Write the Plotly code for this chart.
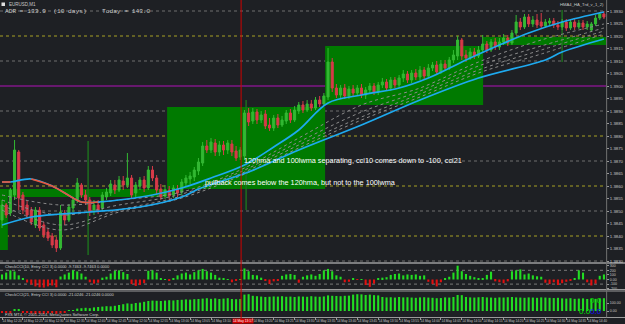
import plotly.graph_objects as go

W, H = 625, 324
def px(x): return x / W
def py(y): return 1 - y / H

# ---------------- data ----------------
bar_index = list(range(145))

opens = [1.38464, 1.38524, 1.38492, 1.38564, 1.38736, 1.38564, 1.38524, 1.38504, 1.38444, 1.38504,
         1.38444, 1.38416, 1.38400, 1.38384, 1.38352, 1.38492, 1.38464, 1.38512, 1.38544, 1.38604,
         1.38564, 1.38544, 1.38504, 1.38524, 1.38512, 1.38556, 1.38572, 1.38604, 1.38584, 1.38620,
         1.38604, 1.38632, 1.38572, 1.38600, 1.38624, 1.38592, 1.38664, 1.38632, 1.38588, 1.38560,
         1.38584, 1.38564, 1.38588, 1.38576, 1.38612, 1.38628, 1.38636, 1.38660, 1.38692, 1.38760,
         1.38744, 1.38772, 1.38736, 1.38764, 1.38744, 1.38768, 1.38740, 1.38716, 1.38720, 1.38892,
         1.38860, 1.38896, 1.38864, 1.38888, 1.38844, 1.38832, 1.38872, 1.38844, 1.38860, 1.38892,
         1.38864, 1.38900, 1.38924, 1.38904, 1.38928, 1.38912, 1.38944, 1.38928, 1.38956, 1.39096,
         1.38992, 1.38964, 1.38992, 1.38960, 1.38988, 1.38972, 1.38992, 1.38964, 1.38984, 1.39000,
         1.38976, 1.39004, 1.39016, 1.38992, 1.39024, 1.39004, 1.39032, 1.39048, 1.39024, 1.39052,
         1.39036, 1.39064, 1.39040, 1.39072, 1.39084, 1.39056, 1.39088, 1.39072, 1.39104, 1.39120,
         1.39184, 1.39124, 1.39112, 1.39136, 1.39120, 1.39144, 1.39168, 1.39144, 1.39176, 1.39156,
         1.39176, 1.39192, 1.39172, 1.39212, 1.39256, 1.39236, 1.39276, 1.39248, 1.39264, 1.39256,
         1.39240, 1.39252, 1.39260, 1.39244, 1.39236, 1.39256, 1.39232, 1.39256, 1.39236, 1.39252,
         1.39236, 1.39224, 1.39248, 1.39272, 1.39288]

highs = [1.38544, 1.38532, 1.38592, 1.38784, 1.38744, 1.38576, 1.38540, 1.38516, 1.38516, 1.38516,
         1.38456, 1.38428, 1.38412, 1.38396, 1.38524, 1.38504, 1.38528, 1.38556, 1.38632, 1.38612,
         1.38584, 1.38556, 1.38544, 1.38544, 1.38576, 1.38592, 1.38624, 1.38624, 1.38640, 1.38640,
         1.38732, 1.38644, 1.38616, 1.38636, 1.38640, 1.38680, 1.38680, 1.38644, 1.38608, 1.38604,
         1.38600, 1.38604, 1.38604, 1.38628, 1.38644, 1.38656, 1.38676, 1.38712, 1.38776, 1.38784,
         1.38792, 1.38788, 1.38780, 1.38780, 1.38784, 1.38784, 1.38760, 1.38756, 1.38904, 1.38912,
         1.38912, 1.38908, 1.38900, 1.38904, 1.38872, 1.38884, 1.38888, 1.38880, 1.38904, 1.38908,
         1.38920, 1.38936, 1.38940, 1.38944, 1.38944, 1.38956, 1.38960, 1.38972, 1.39152, 1.39112,
         1.39008, 1.39004, 1.39008, 1.39000, 1.39004, 1.39004, 1.39008, 1.38996, 1.39012, 1.39012,
         1.39016, 1.39032, 1.39028, 1.39036, 1.39036, 1.39044, 1.39064, 1.39060, 1.39064, 1.39068,
         1.39080, 1.39076, 1.39088, 1.39096, 1.39100, 1.39104, 1.39104, 1.39116, 1.39144, 1.39200,
         1.39192, 1.39144, 1.39152, 1.39152, 1.39160, 1.39204, 1.39180, 1.39188, 1.39192, 1.39192,
         1.39208, 1.39204, 1.39224, 1.39284, 1.39272, 1.39288, 1.39288, 1.39280, 1.39288, 1.39292,
         1.39268, 1.39272, 1.39272, 1.39260, 1.39268, 1.39268, 1.39268, 1.39268, 1.39264, 1.39264,
         1.39260, 1.39256, 1.39284, 1.39296, 1.39300]

lows = [1.38432, 1.38472, 1.38480, 1.38544, 1.38504, 1.38488, 1.38472, 1.38444, 1.38432, 1.38420,
        1.38392, 1.38380, 1.38352, 1.38336, 1.38344, 1.38444, 1.38456, 1.38496, 1.38532, 1.38552,
        1.38524, 1.38480, 1.38484, 1.38488, 1.38500, 1.38544, 1.38560, 1.38568, 1.38576, 1.38584,
        1.38592, 1.38552, 1.38556, 1.38584, 1.38576, 1.38584, 1.38620, 1.38568, 1.38544, 1.38548,
        1.38544, 1.38552, 1.38556, 1.38564, 1.38596, 1.38608, 1.38620, 1.38644, 1.38680, 1.38732,
        1.38732, 1.38720, 1.38720, 1.38724, 1.38728, 1.38720, 1.38700, 1.38704, 1.38704, 1.38840,
        1.38848, 1.38848, 1.38852, 1.38828, 1.38820, 1.38820, 1.38832, 1.38836, 1.38848, 1.38852,
        1.38856, 1.38888, 1.38892, 1.38896, 1.38900, 1.38904, 1.38916, 1.38920, 1.38944, 1.38976,
        1.38952, 1.38952, 1.38948, 1.38948, 1.38956, 1.38960, 1.38952, 1.38948, 1.38972, 1.38964,
        1.38964, 1.38992, 1.38980, 1.38980, 1.38992, 1.38992, 1.39016, 1.39012, 1.39012, 1.39024,
        1.39024, 1.39028, 1.39032, 1.39060, 1.39044, 1.39048, 1.39060, 1.39064, 1.39092, 1.39104,
        1.39104, 1.39096, 1.39104, 1.39108, 1.39112, 1.39132, 1.39132, 1.39136, 1.39144, 1.39144,
        1.39164, 1.39160, 1.39164, 1.39204, 1.39224, 1.39228, 1.39236, 1.39236, 1.39232, 1.39228,
        1.39232, 1.39240, 1.39232, 1.39224, 1.39224, 1.39220, 1.39224, 1.39224, 1.39228, 1.39224,
        1.39224, 1.39216, 1.39240, 1.39264, 1.39268]

closes = [1.38524, 1.38484, 1.38584, 1.38744, 1.38552, 1.38504, 1.38484, 1.38456, 1.38504, 1.38432,
          1.38404, 1.38392, 1.38364, 1.38352, 1.38496, 1.38464, 1.38516, 1.38544, 1.38612, 1.38564,
          1.38544, 1.38496, 1.38524, 1.38504, 1.38564, 1.38576, 1.38608, 1.38584, 1.38624, 1.38604,
          1.38632, 1.38564, 1.38604, 1.38624, 1.38592, 1.38664, 1.38632, 1.38584, 1.38556, 1.38584,
          1.38560, 1.38592, 1.38572, 1.38616, 1.38632, 1.38640, 1.38664, 1.38696, 1.38760, 1.38744,
          1.38776, 1.38736, 1.38764, 1.38744, 1.38772, 1.38736, 1.38712, 1.38744, 1.38892, 1.38856,
          1.38896, 1.38864, 1.38884, 1.38840, 1.38832, 1.38872, 1.38844, 1.38864, 1.38892, 1.38864,
          1.38904, 1.38924, 1.38904, 1.38928, 1.38912, 1.38944, 1.38928, 1.38960, 1.39096, 1.38992,
          1.38964, 1.38992, 1.38960, 1.38988, 1.38972, 1.38992, 1.38964, 1.38984, 1.39000, 1.38976,
          1.39004, 1.39016, 1.38992, 1.39024, 1.39004, 1.39032, 1.39048, 1.39024, 1.39052, 1.39036,
          1.39064, 1.39040, 1.39072, 1.39084, 1.39056, 1.39088, 1.39072, 1.39104, 1.39124, 1.39184,
          1.39120, 1.39112, 1.39136, 1.39120, 1.39144, 1.39168, 1.39144, 1.39176, 1.39156, 1.39176,
          1.39192, 1.39172, 1.39212, 1.39256, 1.39236, 1.39276, 1.39248, 1.39264, 1.39244, 1.39240,
          1.39256, 1.39260, 1.39244, 1.39236, 1.39256, 1.39232, 1.39256, 1.39236, 1.39252, 1.39236,
          1.39248, 1.39248, 1.39272, 1.39288, 1.39276]

# 120 HMA (colored by slope) and 100 LWMA
hma_idx = [0, 2, 7, 12, 17, 19, 23, 30, 36, 43, 50, 58, 65, 71, 78, 86, 95, 102, 111, 119, 126, 134, 144]
hma_val = [1.38616, 1.38616, 1.38628, 1.38600, 1.38552, 1.38536, 1.38536, 1.38548, 1.38564, 1.38592,
           1.38632, 1.38684, 1.38756, 1.38824, 1.38932, 1.38964, 1.38992, 1.39032, 1.39104, 1.39164,
           1.39212, 1.39256, 1.39296]
hma_down_spans = [(0, 2), (7, 23)]

lwma_idx = [0, 7, 14, 21, 33, 43, 47, 59, 71, 86, 100, 114, 130, 134, 144]
lwma_val = [1.38444, 1.38476, 1.38488, 1.38496, 1.38516, 1.38556, 1.38588, 1.38656, 1.38744, 1.38844,
            1.38944, 1.39032, 1.39104, 1.39136, 1.39188]

ribbon_idx = [0, 14, 28, 43, 57, 71, 86, 100, 114, 129, 144]
ribbon_1 = [1.38564, 1.38524, 1.38544, 1.38576, 1.38664, 1.38792, 1.38924, 1.38992, 1.39096, 1.39184, 1.39248]
ribbon_2 = [1.38544, 1.38484, 1.38524, 1.38568, 1.38656, 1.38776, 1.38896, 1.38980, 1.39080, 1.39160, 1.39232]
ribbon_3 = [1.38524, 1.38444, 1.38504, 1.38560, 1.38648, 1.38764, 1.38876, 1.38968, 1.39064, 1.39144, 1.39220]
ribbon_4 = [1.38504, 1.38424, 1.38496, 1.38552, 1.38640, 1.38752, 1.38864, 1.38956, 1.39052, 1.39128, 1.39208]

cci_fast = [110, 150, 200, 175, 90, 30, -65, -110, -150, -170,
            -175, -150, -130, -170, 65, 110, 150, 200, 175, 130,
            60, -60, -90, -70, 40, 60, 130, 190, 200, 160,
            120, -100, -140, -120, -80, 190, 200, 150, 20, 10,
            -20, 30, 90, 130, 150, 110, 160, 200, 230, 180,
            150, 100, 40, 30, 10, -60, -20, 10, 240, 180,
            100, 90, 40, -30, -100, -40, -20, 80, 110, 120,
            100, -70, 60, 90, 110, 80, 120, 200, 230, 180,
            90, 60, -60, -50, 20, -10, 10, -120, -160, -90,
            30, 40, 50, 100, 120, 130, 90, 110, 100, 110,
            80, 90, -50, -100, -150, -60, 30, 60, 150, 300,
            180, 120, 80, 50, 30, 20, 100, 170, -40, -60,
            -80, -40, 180, 200, 220, 110, 130, 90, 70, 60,
            -70, -100, -60, -120, -80, -50, -30, 20, 200, 150,
            -60, -130, -90, 80, 110]

cci_slow = [-25, -20, -30, 15, 20, -15, -25, -30, -35, -30,
            -35, -30, -25, -35, -20, -15, 10, 12, 30, 35,
            40, 35, 45, 50, 55, 60, 58, 65, 75, 85,
            95, 90, 100, 105, 115, 125, 130, 128, 125, 130,
            135, 132, 138, 140, 145, 142, 148, 150, 155, 160,
            152, 158, 150, 155, 160, 150, 148, 150, 205, 210,
            190, 185, 180, 175, 178, 182, 180, 185, 178, 180,
            175, 182, 180, 178, 185, 180, 178, 182, 195, 190,
            188, 185, 190, 192, 205, 210, 208, 200, 205, 198,
            195, 175, 170, 172, 168, 175, 170, 172, 168, 165,
            170, 172, 168, 165, 160, 162, 170, 168, 175, 200,
            198, 175, 170, 168, 172, 175, 170, 168, 165, 170,
            168, 172, 175, 170, 168, 165, 170, 168, 165, 170,
            168, 165, 162, 165, 158, 155, 160, 152, 155, 158,
            150, 155, 152, 158, 160]

# green range boxes (bar index span, price span)
box_x0 = [-0.5, 1.4, 39.5, 77.3, 115.1]
box_x1 = [1.4, 39.5, 77.3, 115.1, 145.0]
box_lo = [1.38344, 1.38556, 1.38588, 1.38924, 1.39164]
box_hi = [1.38588, 1.38588, 1.38916, 1.39160, 1.39196]

signal_idx = [20.6, 58.4, 134.0]
signal_lo = [1.38324, 1.38504, 1.39096]
signal_hi = [1.38780, 1.38944, 1.39304]

cursor_idx = 57.2
cursor_label = "14 May 13:17"

gray_levels = [1.3930, 1.3910, 1.3890, 1.3870, 1.3850, 1.3830]
olive_levels = [1.3920, 1.3880, 1.3860, 1.3840]
magenta_level = 1.3900

price_ticks = [1.3830, 1.3835, 1.3840, 1.3845, 1.3850, 1.3855, 1.3860, 1.3865, 1.3870, 1.3875, 1.3880,
               1.3885, 1.3890, 1.3895, 1.3900, 1.3905, 1.3910, 1.3915, 1.3920, 1.3925, 1.3930]

# time labels (the one under the red cursor label is hidden by it, as in the terminal)
time_tick_idx = [0, 5, 10, 15, 20, 25, 30, 35, 40, 45, 50, 60, 65, 70, 75, 80, 85, 90, 95,
                 100, 105, 110, 115, 120, 125, 130, 135, 140]
time_labels = ["14 May 12:20", "14 May 12:25", "14 May 12:30", "14 May 12:35", "14 May 12:40",
               "14 May 12:45", "14 May 12:50", "14 May 12:55", "14 May 13:00", "14 May 13:05",
               "14 May 13:10", "14 May 13:20", "14 May 13:25", "14 May 13:30",
               "14 May 13:35", "14 May 13:40", "14 May 13:45", "14 May 13:50", "14 May 13:55",
               "14 May 14:00", "14 May 14:05", "14 May 14:10", "14 May 14:15", "14 May 14:20",
               "14 May 14:25", "14 May 14:30", "14 May 14:35", "14 May 14:40"]

# ---------------- figure ----------------
BG = "#1e2024"
TXT = "#c8c8c8"
CYAN = "#1eaaf0"
FONT = "Liberation Sans"
XR = 606 / W

fig = go.Figure()

fig.add_trace(go.Candlestick(
    x=bar_index, open=opens, high=highs, low=lows, close=closes,
    increasing=dict(line=dict(color="#33b833", width=1), fillcolor="#33b833"),
    decreasing=dict(line=dict(color="#d83a48", width=1), fillcolor="#d83a48"),
    whiskerwidth=0, xaxis="x", yaxis="y", hoverinfo="skip"))

for rib in [ribbon_1, ribbon_2, ribbon_3, ribbon_4]:
    fig.add_trace(go.Scatter(x=ribbon_idx, y=rib, mode="lines",
                             line=dict(color="#8c8c8c", width=1, dash="dot", shape="spline"),
                             xaxis="x", yaxis="y", hoverinfo="skip"))

fig.add_trace(go.Scatter(x=lwma_idx, y=lwma_val, mode="lines",
                         line=dict(color=CYAN, width=1.7, shape="spline"),
                         xaxis="x", yaxis="y", hoverinfo="skip"))
fig.add_trace(go.Scatter(x=hma_idx, y=hma_val, mode="lines",
                         line=dict(color=CYAN, width=1.7, shape="spline"),
                         xaxis="x", yaxis="y", hoverinfo="skip"))
for a, b in hma_down_spans:
    sx = [i for i in hma_idx if a <= i <= b]
    sy = [v for i, v in zip(hma_idx, hma_val) if a <= i <= b]
    fig.add_trace(go.Scatter(x=sx, y=sy, mode="lines",
                             line=dict(color="#e8563c", width=1.7, shape="spline"),
                             xaxis="x", yaxis="y", hoverinfo="skip"))

GREEN_BAR = "#22dd22"
RED_BAR = "#e01010"
fig.add_trace(go.Bar(x=bar_index, y=cci_fast, width=0.5,
                     marker=dict(color=[GREEN_BAR if v >= 0 else RED_BAR for v in cci_fast], line_width=0),
                     xaxis="x2", yaxis="y2", hoverinfo="skip"))
fig.add_trace(go.Bar(x=bar_index, y=cci_slow, width=0.5,
                     marker=dict(color=[GREEN_BAR if v >= 0 else RED_BAR for v in cci_slow], line_width=0),
                     xaxis="x3", yaxis="y3", hoverinfo="skip"))

shapes = []
for x0, x1, lo, hi in zip(box_x0, box_x1, box_lo, box_hi):
    shapes.append(dict(type="rect", xref="x", yref="y", x0=x0, x1=x1, y0=lo, y1=hi,
                       fillcolor="#007a00", line_width=0, layer="below"))
for lv in gray_levels:
    shapes.append(dict(type="line", xref="paper", yref="y", x0=0, x1=XR, y0=lv, y1=lv,
                       line=dict(color="#6e6e6e", width=1, dash="dot"), layer="below"))
for lv in olive_levels:
    shapes.append(dict(type="line", xref="paper", yref="y", x0=0, x1=XR, y0=lv, y1=lv,
                       line=dict(color="#a6a024", width=1, dash="dot"), layer="below"))
shapes.append(dict(type="line", xref="paper", yref="y", x0=0, x1=XR, y0=magenta_level, y1=magenta_level,
                   line=dict(color="#b010b8", width=1.2), layer="below"))
for xi, lo, hi in zip(signal_idx, signal_lo, signal_hi):
    shapes.append(dict(type="line", xref="x", yref="y", x0=xi, x1=xi, y0=lo, y1=hi,
                       line=dict(color="#1e6e1e", width=1.5), layer="below"))
# pane level lines
for lv in [200, -100]:
    shapes.append(dict(type="line", xref="paper", yref="y2", x0=0, x1=XR, y0=lv, y1=lv,
                       line=dict(color="#7a7a7a", width=1, dash="dot"), layer="below"))
# separators / borders
for yy, col in [(263, "#d8d8d8"), (289.5, "#9a9a9a"), (291, "#9a9a9a"), (317.5, "#9a9a9a")]:
    shapes.append(dict(type="line", xref="paper", yref="paper", x0=0, x1=1, y0=py(yy), y1=py(yy),
                       line=dict(color=col, width=1)))
shapes.append(dict(type="line", xref="paper", yref="paper", x0=XR + 0.001, x1=XR + 0.001, y0=py(317.5), y1=1,
                   line=dict(color="#707070", width=1)))
shapes.append(dict(type="line", xref="x", yref="paper", x0=cursor_idx, x1=cursor_idx, y0=0, y1=1,
                   line=dict(color="#d00000", width=1)))
shapes.append(dict(type="rect", xref="paper", yref="paper", x0=px(1.5), x1=px(5), y0=py(6), y1=py(2.5),
                   fillcolor="#e0e0e0", line_width=0))

ann = []
def text(x, y, s, size, color=TXT, family=FONT, xanchor="left", **kw):
    ann.append(dict(x=x, y=y, xref="paper", yref="paper", text=s, showarrow=False,
                    xanchor=xanchor, yanchor="middle", font=dict(size=size, color=color, family=family), **kw))

text(px(7), py(4.2), "EURUSD,M1", 4.5)
text(px(3), py(11), "ADR = 133.9  (10 days)", 6.2, family="Liberation Mono")
text(px(100), py(11), "Today = 143.0", 6.2, family="Liberation Mono")
text(px(606), py(4.2), "HMA4_HA_Trd_v_1_2)", 4.2, xanchor="right")
text(px(242), py(160), "120hma and 100lwma separating, cci10 comes down to -100, cci21", 7.3, color="#ffffff")
text(px(203), py(182), "pullback comes below the 120hma, but not to the 100lwma", 7.3, color="#ffffff")
text(px(3), py(266.5), "CheckCCI(10, Entry CCI 3) 0.0000 -9.7463 -9.7463 0.0000", 4, color="#d0d0d0")
text(px(3), py(294), "CheckCCI(21, Entry CCI 3) 0.0000 -21.0246 -21.0246 0.0000", 4, color="#d0d0d0")
text(px(3), py(314.5), "FXS MT4, \u00a9 2001-2014, MetaQuotes Software Corp.", 4, color="#d0d0d0")
text(px(604), py(300.5), "0.0", 8, color="#00e000", xanchor="right")
text(px(604), py(311),
     "<span style='color:#00e000'>0.0</span><span style='color:#1010ff'>0.0</span>", 8, xanchor="right")
ann.append(dict(x=cursor_idx + 0.4, y=py(321), xref="x", yref="paper", text=cursor_label, showarrow=False,
                xanchor="center", yanchor="middle", bgcolor="#d00000", borderpad=0,
                font=dict(size=3.3, color="#ffffff", family=FONT)))

axis_common = dict(showgrid=False, zeroline=False, showline=False)
fig.update_layout(
    width=W, height=H, margin=dict(l=0, r=0, t=0, b=0), autosize=False,
    paper_bgcolor=BG, plot_bgcolor=BG, showlegend=False, hovermode=False,
    font=dict(family=FONT, color=TXT),
    shapes=shapes, annotations=ann,
    xaxis=dict(domain=[0, XR], range=[-0.48, 144.5], anchor="y", showticklabels=False,
               rangeslider=dict(visible=False), **axis_common),
    xaxis2=dict(domain=[0, XR], matches="x", anchor="y2", showticklabels=False, **axis_common),
    xaxis3=dict(domain=[0, XR], matches="x", anchor="y3", tickmode="array",
                tickvals=time_tick_idx, ticktext=time_labels, ticks="outside", ticklen=2,
                tickcolor="#9a9a9a", ticklabelposition="outside right", tickangle=0,
                tickfont=dict(size=3.2, color=TXT), **axis_common),
    yaxis=dict(domain=[py(262), 1], range=[1.38296, 1.39344], side="right", anchor="x",
               tickmode="array", tickvals=price_ticks, ticktext=[f"{v:.4f}" for v in price_ticks],
               ticks="outside", ticklen=2, tickcolor="#9a9a9a", tickfont=dict(size=4.3, color=TXT),
               automargin=False, **axis_common),
    yaxis2=dict(domain=[py(289), py(264)], range=[-206.5, 337], side="right", anchor="x2",
                tickmode="array", tickvals=[300, 200, 100, 0, -100, -200],
                ticktext=["300", "200", "100", "0.00", "-100", "-200"],
                ticks="outside", ticklen=2, tickcolor="#9a9a9a", tickfont=dict(size=3.6, color=TXT),
                automargin=False, **axis_common),
    yaxis3=dict(domain=[py(317), py(291)], range=[-75, 250], side="right", anchor="x3",
                tickmode="array", tickvals=[100, 0], ticktext=["100.00", "0.00"],
                ticks="outside", ticklen=2, tickcolor="#9a9a9a", tickfont=dict(size=3.6, color=TXT),
                automargin=False, **axis_common),
)

fig.write_html("out.html")
